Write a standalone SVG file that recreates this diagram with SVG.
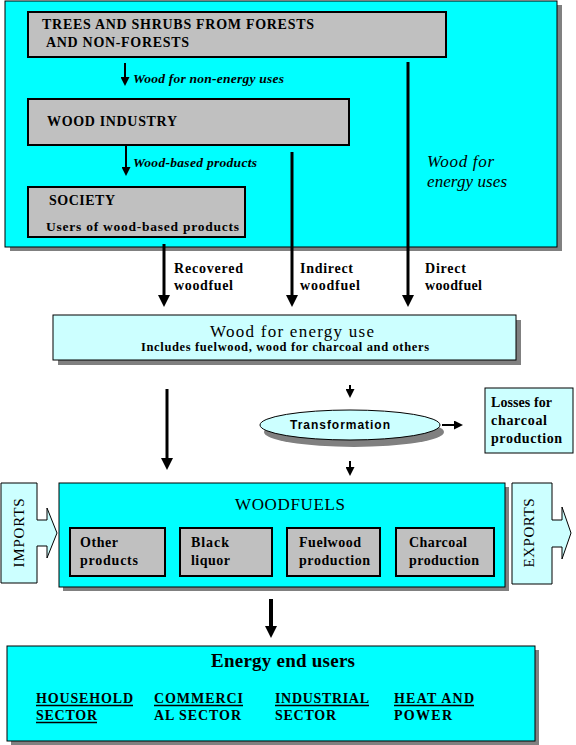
<svg xmlns="http://www.w3.org/2000/svg" width="576" height="745" viewBox="0 0 576 745">
<defs>
<style>
.shadow{fill:#808080}
.cyan{fill:#00ffff;stroke:#000;stroke-width:1}
.lcyan{fill:#ccffff;stroke:#000;stroke-width:1}
.gray{fill:#c0c0c0;stroke:#000;stroke-width:2}
.t{font-family:'Liberation Serif','Times New Roman','DejaVu Serif',serif;fill:#000}
.b{font-weight:bold}
.i{font-style:italic}
.s13{font-size:13.5px}
.s14{font-size:14px}
.s17{font-size:17px}
.ul{stroke:#000;stroke-width:1.5}
.ln3{stroke:#000;stroke-width:3;fill:none}
.ln2{stroke:#000;stroke-width:2;fill:none}
</style>
<marker id="big" markerWidth="12" markerHeight="12" refX="1" refY="6" orient="auto" markerUnits="userSpaceOnUse"><path d="M0,0 L12,6 L0,12 Z" fill="#000"/></marker>
<marker id="small" markerWidth="9" markerHeight="9" refX="1" refY="4.5" orient="auto" markerUnits="userSpaceOnUse"><path d="M0,0 L9,4.5 L0,9 Z" fill="#000"/></marker>
</defs>

<g id="sources-panel">
<rect class="shadow" x="10" y="5" width="552" height="246"/>
<rect class="cyan" x="5" y="1" width="552" height="246"/>
</g>

<g id="trees">
<rect class="gray" x="28" y="12" width="418" height="45"/>
<text class="t b s14" x="42" y="29" textLength="272" lengthAdjust="spacing">TREES AND SHRUBS FROM FORESTS</text>
<text class="t b s14" x="46" y="47" textLength="143" lengthAdjust="spacing">AND NON-FORESTS</text>
</g>

<g id="wood-industry">
<rect class="gray" x="28" y="99" width="321" height="46"/>
<text class="t b s14" x="47" y="126" textLength="130" lengthAdjust="spacing">WOOD INDUSTRY</text>
</g>

<g id="society">
<rect class="gray" x="28" y="187" width="217" height="50"/>
<text class="t b s14" x="49" y="205" textLength="66" lengthAdjust="spacing">SOCIETY</text>
<text class="t b s13" x="46" y="231" textLength="193" lengthAdjust="spacing">Users of wood-based products</text>
</g>

<g id="connectors">
<line class="ln2" x1="125" y1="63" x2="125" y2="78" marker-end="url(#small)"/>
<line class="ln2" x1="126" y1="145" x2="126" y2="168" marker-end="url(#small)"/>
<line class="ln3" x1="164" y1="244" x2="164" y2="296" marker-end="url(#big)"/>
<line class="ln3" x1="292" y1="152" x2="292" y2="296" marker-end="url(#big)"/>
<line class="ln3" x1="408" y1="62" x2="408" y2="296" marker-end="url(#big)"/>
<line class="ln2" x1="350" y1="385" x2="350" y2="390" marker-end="url(#small)"/>
<line class="ln3" x1="167" y1="389" x2="167" y2="459" marker-end="url(#big)"/>
<line class="ln2" x1="442" y1="425" x2="455" y2="425" marker-end="url(#small)"/>
<line class="ln2" x1="350" y1="461" x2="350" y2="468" marker-end="url(#small)"/>
<path d="M271,599 V627" stroke="#000" stroke-width="4" fill="none" marker-end="url(#big)"/>
<text class="t b i s13" x="133" y="83" textLength="151" lengthAdjust="spacing">Wood for non-energy uses</text>
<text class="t b i s13" x="133" y="167" textLength="124" lengthAdjust="spacing">Wood-based products</text>
<text class="t i s17" x="427" y="167" textLength="67" lengthAdjust="spacing">Wood for</text>
<text class="t i s17" x="427" y="187" textLength="80" lengthAdjust="spacing">energy uses</text>
<text class="t b s14" x="174" y="273" textLength="69" lengthAdjust="spacing">Recovered</text>
<text class="t b s14" x="174" y="290" textLength="59" lengthAdjust="spacing">woodfuel</text>
<text class="t b s14" x="300" y="273" textLength="53" lengthAdjust="spacing">Indirect</text>
<text class="t b s14" x="300" y="290" textLength="60" lengthAdjust="spacing">woodfuel</text>
<text class="t b s14" x="425" y="273" textLength="41" lengthAdjust="spacing">Direct</text>
<text class="t b s14" x="425" y="290" textLength="57" lengthAdjust="spacing">woodfuel</text>
</g>

<g id="wood-energy-use">
<rect class="shadow" x="58" y="320" width="463" height="45"/>
<rect class="lcyan" x="53" y="315" width="463" height="45"/>
<text class="t s17" x="210" y="337" textLength="164" lengthAdjust="spacing">Wood for energy use</text>
<text class="t b" font-size="12.5" x="141" y="351" textLength="288" lengthAdjust="spacing">Includes fuelwood, wood for charcoal and others</text>
</g>

<g id="transformation">
<ellipse class="shadow" cx="354" cy="432" rx="90" ry="15"/>
<ellipse class="lcyan" cx="350" cy="425" rx="90" ry="15"/>
<text font-family="'Liberation Sans',Arial,sans-serif" font-weight="bold" font-size="12" x="290" y="429" textLength="100" lengthAdjust="spacing">Transformation</text>
</g>

<g id="losses">
<rect class="lcyan" x="485" y="388" width="88" height="65"/>
<text class="t b s14" x="491" y="407" textLength="61" lengthAdjust="spacing">Losses for</text>
<text class="t b s14" x="491" y="425" textLength="56" lengthAdjust="spacing">charcoal</text>
<text class="t b s14" x="491" y="443" textLength="71" lengthAdjust="spacing">production</text>
</g>

<g id="imports">
<path class="lcyan" d="M1,483 H37 V520 H47 V508 L57,533 L47,558 V546 H37 V583 H1 Z"/>
<text class="t" font-size="15" transform="translate(24,533) rotate(-90)" x="0" y="0" text-anchor="middle" textLength="69" lengthAdjust="spacing">IMPORTS</text>
</g>

<g id="exports">
<path class="lcyan" d="M512,483 H552 V520 H562 V507 L571,533 L562,559 V547 H552 V584 H512 Z"/>
<text class="t" font-size="15" transform="translate(534,533) rotate(-90)" x="0" y="0" text-anchor="middle" textLength="69" lengthAdjust="spacing">EXPORTS</text>
</g>

<g id="woodfuels">
<rect class="shadow" x="63" y="487" width="446" height="104"/>
<rect class="cyan" x="59" y="483" width="446" height="104"/>
<text class="t s17" x="235" y="510" textLength="110" lengthAdjust="spacing">WOODFUELS</text>
</g>

<g id="other-products">
<rect class="gray" x="70" y="528" width="95" height="48"/>
<text class="t b s14" x="80" y="547" textLength="38" lengthAdjust="spacing">Other</text>
<text class="t b s14" x="80" y="565" textLength="58" lengthAdjust="spacing">products</text>
</g>
<g id="black-liquor">
<rect class="gray" x="180" y="528" width="92" height="48"/>
<text class="t b s14" x="191" y="547" textLength="38" lengthAdjust="spacing">Black</text>
<text class="t b s14" x="191" y="565" textLength="39" lengthAdjust="spacing">liquor</text>
</g>
<g id="fuelwood-production">
<rect class="gray" x="287" y="528" width="93" height="48"/>
<text class="t b s14" x="299" y="547" textLength="62" lengthAdjust="spacing">Fuelwood</text>
<text class="t b s14" x="299" y="565" textLength="71" lengthAdjust="spacing">production</text>
</g>
<g id="charcoal-production">
<rect class="gray" x="396" y="528" width="98" height="48"/>
<text class="t b s14" x="409" y="547" textLength="58" lengthAdjust="spacing">Charcoal</text>
<text class="t b s14" x="409" y="565" textLength="70" lengthAdjust="spacing">production</text>
</g>

<g id="energy-end-users">
<rect class="shadow" x="11" y="650" width="528" height="95"/>
<rect class="cyan" x="7" y="646" width="528" height="95"/>
<text class="t b" font-size="19" x="211" y="667" textLength="144" lengthAdjust="spacing">Energy end users</text>
<text class="t b s14" x="36" y="703" textLength="97" lengthAdjust="spacing">HOUSEHOLD</text>
<text class="t b s14" x="36" y="720" textLength="61" lengthAdjust="spacing">SECTOR</text>
<text class="t b s14" x="154" y="703" textLength="89" lengthAdjust="spacing">COMMERCI</text>
<text class="t b s14" x="154" y="720" textLength="87" lengthAdjust="spacing">AL SECTOR</text>
<text class="t b s14" x="275" y="703" textLength="94" lengthAdjust="spacing">INDUSTRIAL</text>
<text class="t b s14" x="275" y="720" textLength="61" lengthAdjust="spacing">SECTOR</text>
<text class="t b s14" x="394" y="703" textLength="80" lengthAdjust="spacing">HEAT AND</text>
<text class="t b s14" x="394" y="720" textLength="58" lengthAdjust="spacing">POWER</text>
<line class="ul" x1="36" y1="705.5" x2="133" y2="705.5"/>
<line class="ul" x1="36" y1="722.5" x2="97" y2="722.5"/>
<line class="ul" x1="154" y1="705.5" x2="243" y2="705.5"/>
<line class="ul" x1="275" y1="705.5" x2="369" y2="705.5"/>
<line class="ul" x1="394" y1="705.5" x2="474" y2="705.5"/>
</g>
</svg>
